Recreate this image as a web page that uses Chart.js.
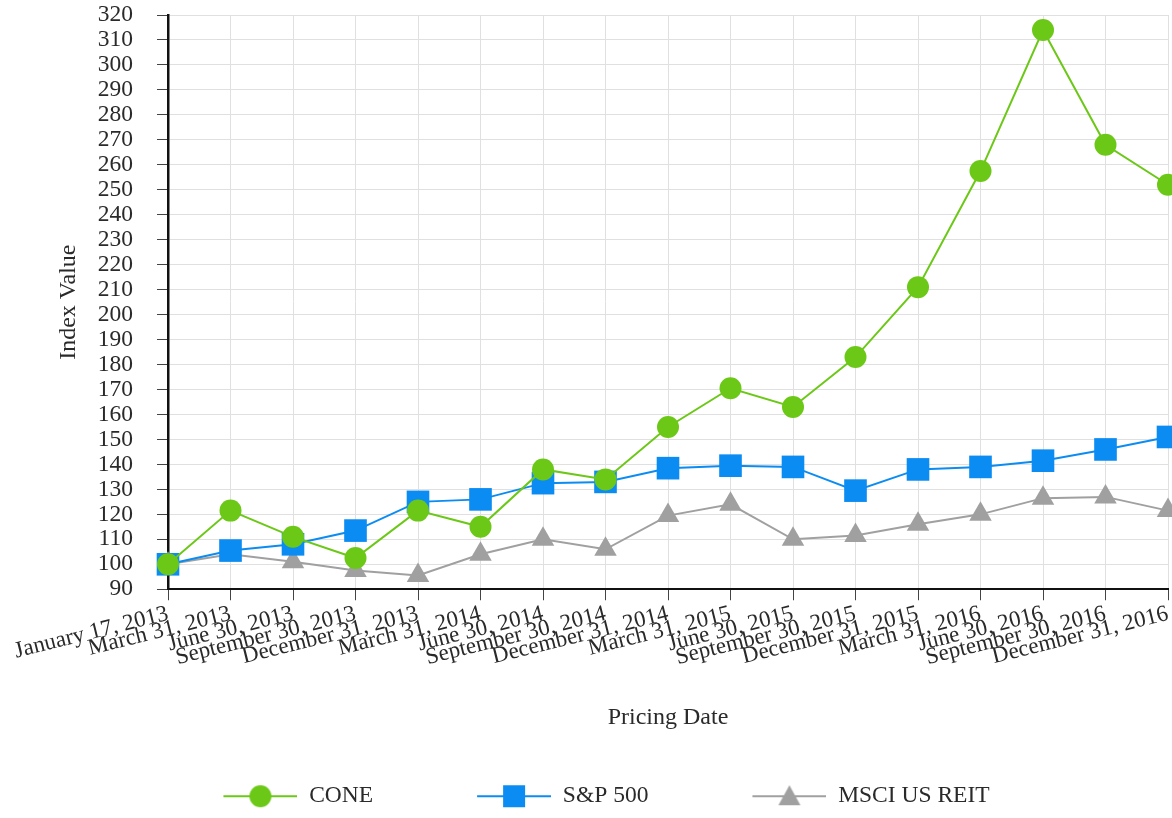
<!DOCTYPE html>
<html>
<head>
<meta charset="utf-8">
<script src="https://cdn.jsdelivr.net/npm/chart.js@4"></script>
<style>
  html, body { margin: 0; padding: 0; background: #fff; }
  #wrap { width: 1172px; height: 818px; }
</style>
</head>
<body>
<div id="wrap"><canvas id="myChart" width="1172" height="818"></canvas></div>
<script>
const dates = ['January 17, 2013', 'March 31, 2013', 'June 30, 2013', 'September 30, 2013', 'December 31, 2013',
  'March 31, 2014', 'June 30, 2014', 'September 30, 2014', 'December 31, 2014',
  'March 31, 2015', 'June 30, 2015', 'September 30, 2015', 'December 31, 2015',
  'March 31, 2016', 'June 30, 2016', 'September 30, 2016', 'December 31, 2016'];
const cone = [100, 121.5, 111, 102.5, 121.5, 115, 138, 134, 155, 170.5, 163, 183, 211, 257.5, 314, 268, 252];
const sp500 = [100, 105.5, 108, 113.5, 125, 126, 132.5, 133, 138.5, 139.5, 139, 129.5, 138, 139, 141.5, 146, 151];
const msciReit = [100, 104, 101, 97.5, 95.5, 104, 110, 106, 119.5, 124, 110, 111.5, 116, 120, 126.5, 127, 121.5];

const green = '#6cc817';
const blue = '#0b8cf2';
const grey = '#a0a0a0';
const serif = "'Liberation Serif', 'DejaVu Serif', serif";
const textColor = '#2a2a2a';

// legend symbol: a short line with the marker on it, with some blank room on the left
const iconGap = 45;
const legendIcon = (color, style) => {
	const c = document.createElement('canvas');
	c.width = iconGap + 74;
	c.height = 26;
	const g = c.getContext('2d');
	const mid = iconGap + 37;
	g.strokeStyle = color;
	g.lineWidth = 2;
	g.beginPath();
	g.moveTo(iconGap, 13);
	g.lineTo(iconGap + 74, 13);
	g.stroke();
	g.fillStyle = color;
	g.beginPath();
	if (style === 'circle') {
		g.arc(mid, 13, 11, 0, Math.PI * 2);
	} else if (style === 'rect') {
		g.rect(mid - 11, 2, 22, 22);
	} else {
		g.moveTo(mid, 2);
		g.lineTo(mid + 11, 22);
		g.lineTo(mid - 11, 22);
		g.closePath();
	}
	g.fill();
	return c;
};

const makeSet = (label, data, color, style, radius) => ({
	label: label,
	data: data,
	borderColor: color,
	backgroundColor: color,
	borderWidth: 2,
	pointStyle: style,
	pointRadius: radius,
	pointHoverRadius: radius,
	pointBorderWidth: 0,
	tension: 0,
	clip: false,
	legendIcon: legendIcon(color, style)
});

const ctx = document.getElementById('myChart').getContext('2d');
let myChart = new Chart(ctx, {
	type: 'line',
	data: {
		labels: dates,
		datasets: [
			makeSet('CONE', cone, green, 'circle', 11),
			makeSet('S&P 500', sp500, blue, 'rect', 16),
			makeSet('MSCI US REIT', msciReit, grey, 'triangle', 13)
		]
	},
	options: {
		responsive: false,
		animation: false,
		layout: { autoPadding: false, padding: { left: 0, right: 4, top: 15, bottom: 0 } },
		plugins: {
			legend: {
				position: 'bottom',
				labels: {
					usePointStyle: true,
					pointStyleWidth: iconGap + 74,
					padding: 59,
					color: textColor,
					font: { family: serif, size: 23.5 },
					generateLabels: chart => chart.data.datasets.map((ds, i) => ({
						text: ds.label,
						pointStyle: ds.legendIcon,
						fillStyle: ds.borderColor,
						strokeStyle: ds.borderColor,
						lineWidth: 0,
						hidden: false,
						datasetIndex: i,
						fontColor: textColor
					}))
				}
			},
			tooltip: { enabled: false }
		},
		scales: {
			x: {
				offset: false,
				// rotated labels end at their ticks, so no extra room at the sides
				afterFit: scale => {
					scale.paddingRight = 0;
					scale.paddingLeft = 0;
				},
				grid: { color: '#e0e0e0', tickColor: '#444', tickLength: 11 },
				border: { color: '#111', width: 2 },
				ticks: {
					autoSkip: false,
					minRotation: 14,
					maxRotation: 14,
					color: textColor,
					padding: 0,
					font: { family: serif, size: 23 }
				},
				title: {
					display: true,
					text: 'Pricing Date',
					color: textColor,
					font: { family: serif, size: 24 },
					padding: { top: 32, bottom: -7 }
				}
			},
			y: {
				min: 90,
				max: 320,
				// fixed axis width; the tick padding should not push the plot down
				afterFit: scale => {
					scale.width = 168;
					scale.paddingTop = 0;
					scale.paddingBottom = 0;
				},
				grid: { color: '#e0e0e0', tickColor: '#444', tickLength: 11 },
				border: { color: '#111', width: 2.5 },
				ticks: {
					stepSize: 10,
					autoSkip: false,
					color: textColor,
					padding: 24,
					font: { family: serif, size: 23.5 }
				},
				title: {
					display: true,
					text: 'Index Value',
					color: textColor,
					font: { family: serif, size: 24 },
					padding: { top: 54, bottom: 14 }
				}
			}
		}
	}
});
</script>
</body>
</html>
